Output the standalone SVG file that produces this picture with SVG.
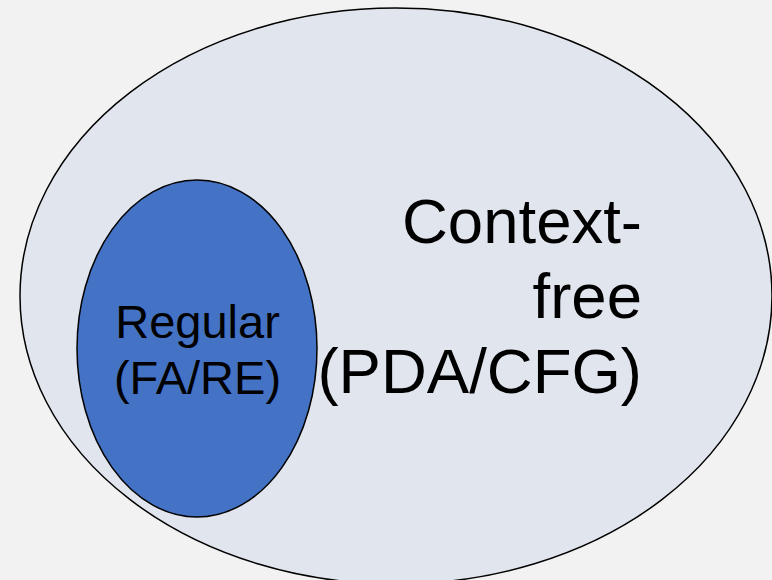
<svg xmlns="http://www.w3.org/2000/svg" width="772" height="580" viewBox="0 0 772 580">
<style>
.lbl{font-family:"Liberation Sans",Arial,sans-serif;fill:#000}
.big{font-size:63.5px}
.small{font-size:47px}
</style>
<rect width="772" height="580" fill="#f2f2f2"/>
<g id="context-free">
<ellipse cx="396" cy="296" rx="376" ry="288" fill="#e1e6ee" stroke="#000" stroke-width="1.5"/>
<text class="lbl big" text-anchor="end"><tspan x="642" y="243">Context-</tspan><tspan x="642" y="318">free</tspan><tspan x="642" y="393">(PDA/CFG)</tspan></text>
</g>
<g id="regular">
<ellipse cx="197" cy="348.5" rx="120" ry="168.5" fill="#4472c4" stroke="#000" stroke-width="1.5"/>
<text class="lbl small" text-anchor="middle"><tspan x="197.5" y="338">Regular</tspan><tspan x="197.5" y="394">(FA/RE)</tspan></text>
</g>
<g id="connectors"/>
</svg>
